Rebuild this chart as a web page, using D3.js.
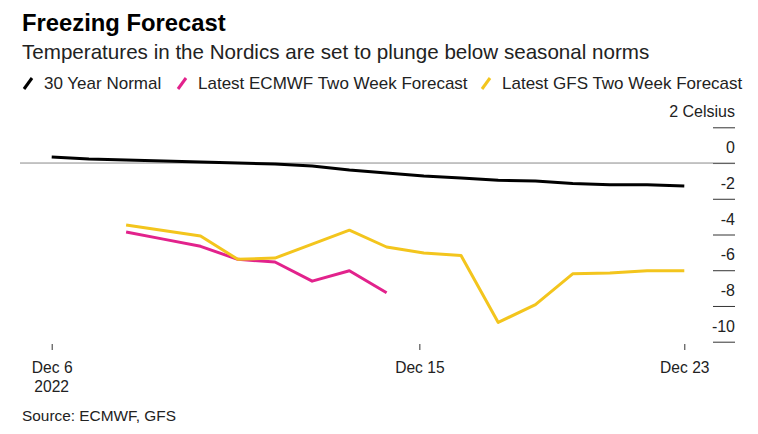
<!DOCTYPE html>
<html>
<head>
<meta charset="utf-8">
<script src="https://cdn.jsdelivr.net/npm/d3@7"></script>
<style>
  html, body { margin: 0; padding: 0; background: #fff; }
  svg { display: block; font-family: "Liberation Sans", Arial, sans-serif; }
</style>
</head>
<body>
<svg id="chart" width="758" height="434"></svg>
<script>
// ---- Data ----
const days = [6, 7, 8, 9, 10, 11, 12, 13, 14, 15, 16, 17, 18, 19, 20, 21, 22, 23];
const normal = [0.34, 0.22, 0.17, 0.11, 0.06, 0.0, -0.06, -0.17, -0.39, -0.56, -0.73, -0.84, -0.96, -1.01, -1.15, -1.21, -1.21, -1.29];
const ecmwf = [null, null, -3.86, -4.26, -4.66, -5.39, -5.54, -6.61, -6.03, -7.26, null, null, null, null, null, null, null, null];
const gfs = [null, null, -3.47, -3.78, -4.08, -5.39, -5.32, -4.54, -3.76, -4.70, -5.04, -5.17, -8.92, -7.92, -6.20, -6.16, -6.03, -6.03];
const seriesNames = ["30 Year Normal", "Latest ECMWF Two Week Forecast", "Latest GFS Two Week Forecast"];
const seriesColors = ["#000000", "#e2228c", "#f3c51d"];
const yTicks = [2, 0, -2, -4, -6, -8, -10];
const yTickLabels = ["2 Celsius", "0", "-2", "-4", "-6", "-8", "-10"];
const xTickDays = [6, 15.88, 23];
const xTickLabels = ["Dec 6", "Dec 15", "Dec 23"];
const title = "Freezing Forecast";
const subtitle = "Temperatures in the Nordics are set to plunge below seasonal norms";
const source = "Source: ECMWF, GFS";

// ---- Chart ----
const svg = d3.select("#chart");
const x = d3.scaleLinear().domain([6, 23]).range([51.7, 684.3]);
const y = d3.scaleLinear().domain([-10, 2]).range([341.7, 127.3]);

svg.append("text").attr("x", 22).attr("y", 31)
  .attr("font-size", 23.8).attr("font-weight", 700).attr("fill", "#000").text(title);
svg.append("text").attr("x", 22).attr("y", 59)
  .attr("font-size", 20.6).attr("fill", "#222").text(subtitle);

// legend
const legendX = [22, 176, 480];
const lg = svg.append("g");
seriesNames.forEach((n, i) => {
  const g = lg.append("g").attr("transform", `translate(${legendX[i]},0)`);
  g.append("line").attr("x1", 2).attr("y1", 89).attr("x2", 10).attr("y2", 78)
    .attr("stroke", seriesColors[i]).attr("stroke-width", 3).attr("stroke-linecap", "butt");
  g.append("text").attr("x", 22).attr("y", 89).attr("font-size", 17).attr("fill", "#222").text(n);
});

// y axis (right side)
const yAxis = d3.axisRight(y).tickValues(yTicks).tickSize(22).tickFormat((d, i) => yTickLabels[i]);
const ya = svg.append("g").attr("transform", "translate(713,0)").call(yAxis);
ya.select(".domain").remove();
ya.selectAll(".tick line").attr("stroke", "#333").attr("stroke-width", 1);
ya.selectAll(".tick text")
  .attr("x", 22).attr("dy", null).attr("y", -10.5)
  .attr("text-anchor", "end").attr("font-size", 16).attr("fill", "#222")
  .attr("font-family", "Liberation Sans, Arial, sans-serif");

// zero line
svg.append("line").attr("x1", 20).attr("x2", 735)
  .attr("y1", y(0)).attr("y2", y(0)).attr("stroke", "#8a8a8a").attr("stroke-width", 1);

// x axis
const xAxis = d3.axisBottom(x).tickValues(xTickDays).tickSize(6).tickFormat((d, i) => xTickLabels[i]);
const xa = svg.append("g").attr("transform", "translate(0,344)").call(xAxis);
xa.select(".domain").remove();
xa.selectAll(".tick line").attr("stroke", "#333");
xa.selectAll(".tick text").attr("y", 29).attr("dy", null)
  .attr("font-size", 15.6).attr("fill", "#222").attr("font-family", "Liberation Sans, Arial, sans-serif");
xa.append("text").attr("x", x(6)).attr("y", 48).attr("text-anchor", "middle")
  .attr("font-size", 15.6).attr("fill", "#222").text("2022");

// lines
const line = d3.line().defined(d => d[1] !== null).x(d => x(d[0])).y(d => y(d[1]));
[normal, ecmwf, gfs].forEach((vals, i) => {
  svg.append("path")
    .datum(days.map((d, j) => [d, vals[j]]))
    .attr("d", line).attr("fill", "none")
    .attr("stroke", seriesColors[i]).attr("stroke-width", 3)
    .attr("stroke-linejoin", "round").attr("stroke-linecap", "butt");
});

// source
svg.append("text").attr("x", 22).attr("y", 421).attr("font-size", 15.4).attr("fill", "#222").text(source);
</script>
</body>
</html>
